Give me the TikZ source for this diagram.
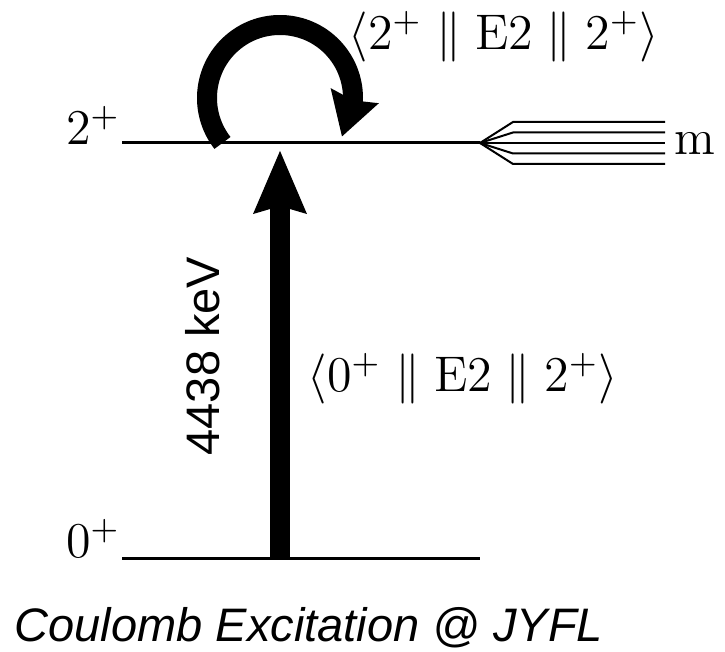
\documentclass[tikz,border=0pt]{standalone}
\usepackage{fontspec}
\newfontfamily\labelsans{Liberation Sans}
\usepackage{tikz}
\usetikzlibrary{positioning,arrows.meta,bending,calc}
\tikzset{
  level-line/.style={line width=3pt,line cap=butt},
  fan-line/.style={line width=2pt},
  arrow-big/.style={-{Stealth[length=62pt,width=50pt,inset=6pt]},line width=20pt},
  arrow-loop/.style={-{Stealth[length=42pt,width=48pt,inset=4pt,flex]},line width=20pt},
  label-math/.style={inner sep=0pt,font=\fontsize{12}{14}\selectfont,scale=4.17},
  label-sans/.style={inner sep=0pt,font=\fontsize{47}{56}\selectfont\labelsans},
}
\begin{document}
\begin{tikzpicture}[x=1pt,y=1pt]
  \useasboundingbox (0,0) rectangle (725,652);
  % levels
  \coordinate (exc-l) at (122,509);
  \coordinate (exc-r) at (480,509);
  \coordinate (gs-l)  at (122,93);
  \coordinate (gs-r)  at (480,93);
  \draw[level-line] (exc-l) -- (exc-r);
  \draw[level-line] (gs-l) -- (gs-r);
  \node[label-math,anchor=base east] (exc-lab) at (121,507) {$2^+$};
  \node[label-math,anchor=base east] (gs-lab)  at (121,94)  {$0^+$};
  % magnetic substates
  \foreach \dy in {-21,-10.5,0,10.5,21}
    \draw[fan-line] (exc-r) -- ++(33,\dy) -- ++(152,0);
  \node[label-math,anchor=base west] (sub-lab) at (674,497) {m};
  % excitation
  \coordinate (gs-up)  at (280,93);
  \coordinate (exc-dn) at (280,502);
  \draw[arrow-big] (gs-up) -- (exc-dn);
  \node[label-sans,rotate=90,anchor=base] (energy) at (219,296) {4438 keV};
  \node[label-math,anchor=base] (me-gs) at (463,260)
    {$\langle 0^+\parallel \mathrm{E2}\parallel 2^+\rangle$};
  % reorientation
  \coordinate (loop-c) at (280,554);
  \coordinate (loop-s) at ($(loop-c)+(218:73)$);
  \draw[arrow-loop] (loop-s) arc[start angle=218,end angle=-32,radius=73];
  \node[label-math,anchor=base] (me-exc) at (504,602)
    {$\langle 2^+\parallel \mathrm{E2}\parallel 2^+\rangle$};
  \node[label-sans,anchor=base,font=\fontsize{47}{56}\selectfont\labelsans\itshape]
    (caption) at (309,10) {Coulomb Excitation @ JYFL};
\end{tikzpicture}
\end{document}
